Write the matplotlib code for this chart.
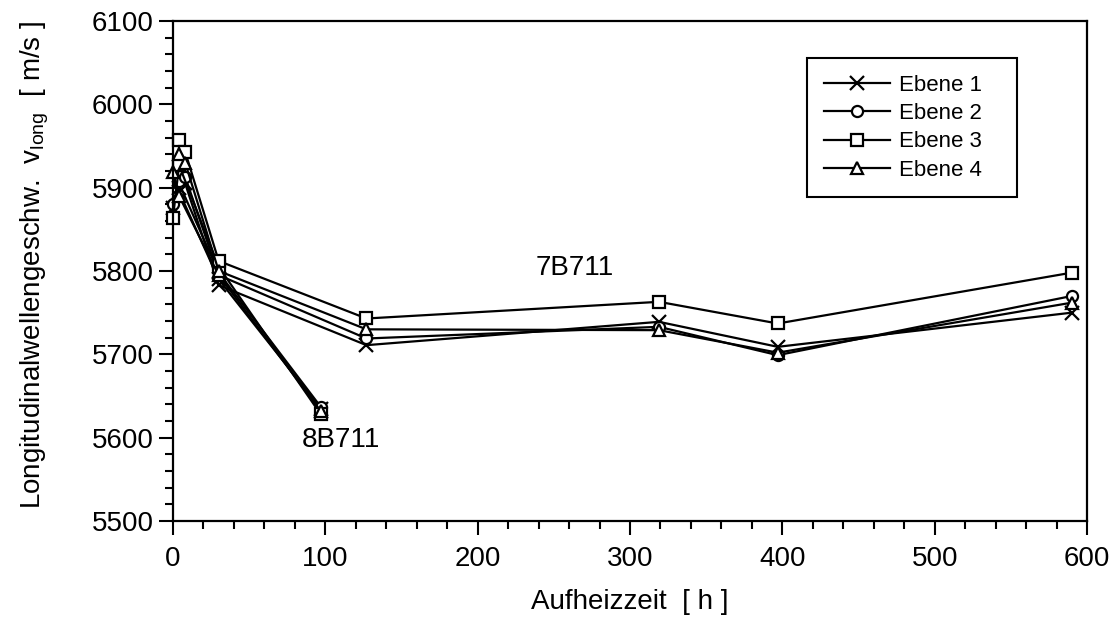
import numpy as np
import matplotlib.pyplot as plt
from matplotlib.ticker import MultipleLocator

plt.rcParams['font.family'] = ['Liberation Sans', 'DejaVu Sans']

# Probe 7B711: heating times [h] and longitudinal wave speed [m/s] per level
t_7 = [4, 8, 30, 127, 319, 397, 590]
v7_e1 = [5900, 5905, 5783, 5711, 5739, 5709, 5750]
v7_e2 = [5908, 5913, 5795, 5719, 5733, 5699, 5770]
v7_e3 = [5957, 5943, 5812, 5743, 5763, 5737, 5798]
v7_e4 = [5940, 5930, 5800, 5730, 5729, 5702, 5762]

# Probe 8B711
t_8 = [0, 4, 30, 97]
v8_e1 = [5875, 5895, 5790, 5635]
v8_e2 = [5880, 5905, 5798, 5637]
v8_e3 = [5864, 5927, 5805, 5628]
v8_e4 = [5919, 5890, 5795, 5632]

labels = ['Ebene 1', 'Ebene 2', 'Ebene 3', 'Ebene 4']
markers = ['x', 'o', 's', '^']
msizes = [10, 8, 9, 9]

fig = plt.figure(figsize=(11.11, 6.30), dpi=100)
ax = fig.add_axes([0.1557, 0.173, 0.8227, 0.7937])

series7 = [v7_e1, v7_e2, v7_e3, v7_e4]
series8 = [v8_e1, v8_e2, v8_e3, v8_e4]
for i in range(4):
    style = dict(color='black', lw=1.6, marker=markers[i], ms=msizes[i],
                 mfc='white', mec='black', mew=1.6, clip_on=False)
    ax.plot(t_8, series8[i], **style)
    # trailing blanks widen the legend box on the right
    ax.plot(t_7, series7[i], label=labels[i] + '   ', **style)

ax.text(264, 5804, '7B711', fontsize=20, ha='center', va='center')
ax.text(110, 5597, '8B711', fontsize=20, ha='center', va='center')

ax.set_xlim(0, 600)
ax.set_ylim(5500, 6100)
ax.xaxis.set_major_locator(MultipleLocator(100))
ax.xaxis.set_minor_locator(MultipleLocator(20))
ax.yaxis.set_major_locator(MultipleLocator(100))
ax.yaxis.set_minor_locator(MultipleLocator(20))
ax.tick_params(which='major', direction='out', length=10, width=1.5,
               labelsize=20, top=False, right=False)
ax.tick_params(axis='x', which='major', pad=8)
ax.tick_params(axis='y', which='major', pad=4)
ax.tick_params(which='minor', direction='out', length=6, width=1.5,
               top=False, right=False)
for s in ax.spines.values():
    s.set_linewidth(1.6)

ax.set_xlabel('Aufheizzeit  [ h ]', fontsize=20, labelpad=12)
ax.set_ylabel(r'Longitudinalwellengeschw.  v$_{\mathregular{long}}$  [ m/s ]',
              fontsize=20)
ax.yaxis.set_label_coords(-0.134, 0.512)

leg = ax.legend(loc='upper right', bbox_to_anchor=(0.923, 0.926),
                borderaxespad=0, fontsize=16, handlelength=2.95,
                labelspacing=0.33, fancybox=False, framealpha=1,
                edgecolor='black', borderpad=0.75, handletextpad=0.4)
leg.get_frame().set_linewidth(1.5)

fig.savefig('out.png', dpi=100, facecolor='white')
